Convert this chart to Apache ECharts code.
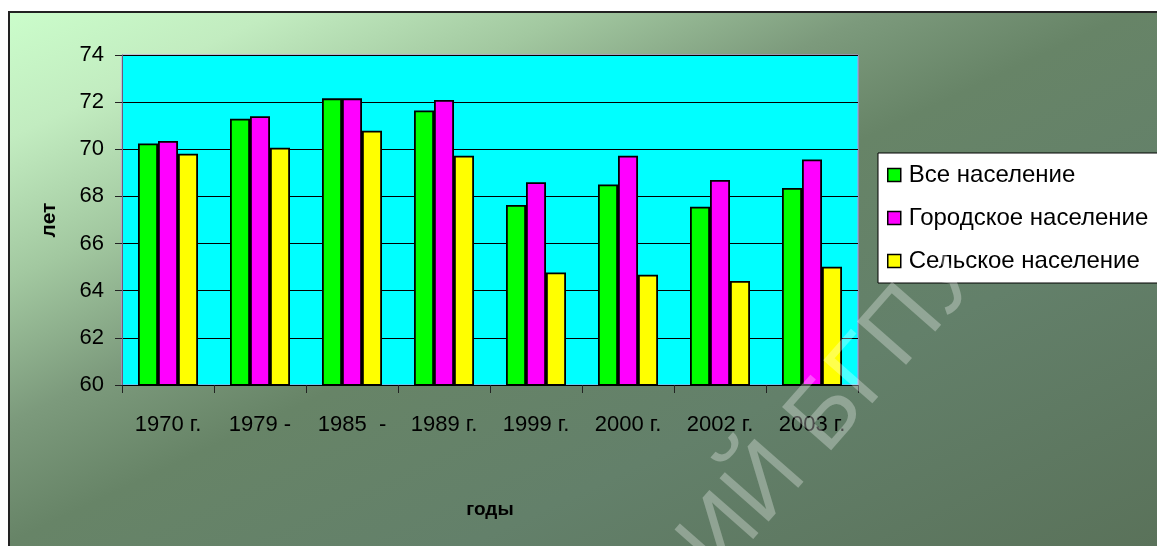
<!DOCTYPE html>
<html>
<head>
<meta charset="utf-8">
<script src="https://cdn.jsdelivr.net/npm/echarts@6/dist/echarts.min.js"></script>
<style>
html,body{margin:0;padding:0;background:#fff;}
#c{width:1157px;height:546px;}
</style>
</head>
<body>
<div id="c"></div>
<script>
const categories = ['1970 г.', '1979 -', '1985  -', '1989 г.', '1999 г.', '2000 г.', '2002 г.', '2003 г.'];
const seriesNames = ['Все население', 'Городское население', 'Сельское население'];
const allPop   = [70.25, 71.30, 72.16, 71.65, 67.64, 68.51, 67.56, 68.36];
const urbanPop = [70.35, 71.40, 72.16, 72.09, 68.60, 69.73, 68.70, 69.57];
const ruralPop = [69.81, 70.07, 70.79, 69.73, 64.77, 64.68, 64.41, 65.02];
const yTicks = [60, 62, 64, 66, 68, 70, 72, 74];
const seriesColors = ['#00ff00', '#ff00ff', '#ffff00'];

const chart = echarts.init(document.getElementById('c'), null, {renderer: 'canvas'});
const FONT = '"Liberation Sans", Arial, sans-serif';
const dataArr = [allPop, urbanPop, ruralPop];

const option = {
  animation: false,
  backgroundColor: '#ffffff',
  graphic: [
    {
      type: 'rect', z: -10, silent: true,
      shape: {x: 9, y: 12, width: 1160, height: 545},
      style: {
        fill: new echarts.graphic.LinearGradient(0, 0, 422, 894, [
          {offset: 0, color: '#ccffcc'},
          {offset: 0.13, color: '#c2ecc0'},
          {offset: 0.26, color: '#a2c8a0'},
          {offset: 0.39, color: '#7c9a7c'},
          {offset: 0.5, color: '#678467'},
          {offset: 0.7, color: '#63806a'},
          {offset: 1, color: '#5a725a'}
        ], true),
        stroke: '#222', lineWidth: 2
      }
    },
    {
      type: 'text', z: 100, silent: true,
      x: 1002, y: 288, rotation: 0.85,
      style: {
        text: 'РЕПОЗИТОРИЙ БГПУ',
        font: '95px "Liberation Sans", Arial, sans-serif',
        fill: 'rgba(255,255,255,0.3)',
        align: 'right', verticalAlign: 'bottom'
      }
    }
  ],
  grid: {
    left: 122, right: 299, top: 55, bottom: 161,
    show: true, backgroundColor: '#00ffff', borderColor: '#b894e8', borderWidth: 1
  },
  legend: {
    orient: 'vertical', left: 878, top: 153,
    backgroundColor: '#ffffff', borderColor: '#000', borderWidth: 1,
    padding: [10, 30, 10, 9],
    itemWidth: 13, itemHeight: 13, itemGap: 19,
    icon: 'rect',
    itemStyle: {borderColor: '#000', borderWidth: 1.5},
    textStyle: {fontFamily: FONT, fontSize: 24, color: '#000', lineHeight: 24, padding: [0, 0, 0, 3]},
    data: seriesNames
  },
  xAxis: {
    type: 'category', data: categories,
    name: 'годы', nameLocation: 'middle', nameGap: 115,
    nameTextStyle: {fontFamily: FONT, fontWeight: 'bold', fontSize: 19, color: '#000'},
    axisLine: {lineStyle: {color: '#000', width: 1}},
    axisTick: {show: true, alignWithLabel: false, length: 8, lineStyle: {color: '#222'}},
    axisLabel: {fontFamily: FONT, fontSize: 22, color: '#000', margin: 29}
  },
  yAxis: {
    type: 'value', min: 60, max: 74, interval: 2,
    name: 'лет', nameLocation: 'middle', nameGap: 62,
    nameTextStyle: {fontFamily: FONT, fontWeight: 'bold', fontSize: 21, color: '#000'},
    axisLine: {show: true, lineStyle: {color: '#6a5a7a', width: 1}},
    axisTick: {show: true, length: 7, lineStyle: {color: '#222'}},
    axisLabel: {fontFamily: FONT, fontSize: 22, color: '#000', margin: 18,
      formatter: v => yTicks.includes(v) ? String(v) : ''},
    splitLine: {show: true, lineStyle: {color: '#000', width: 1}}
  },
  series: seriesNames.map((n, i) => ({
    name: n, type: 'bar', data: dataArr[i],
    barWidth: 20, barGap: '0%',
    itemStyle: {color: seriesColors[i], borderColor: '#000', borderWidth: 1.8}
  }))
};
chart.setOption(option);
</script>
</body>
</html>
